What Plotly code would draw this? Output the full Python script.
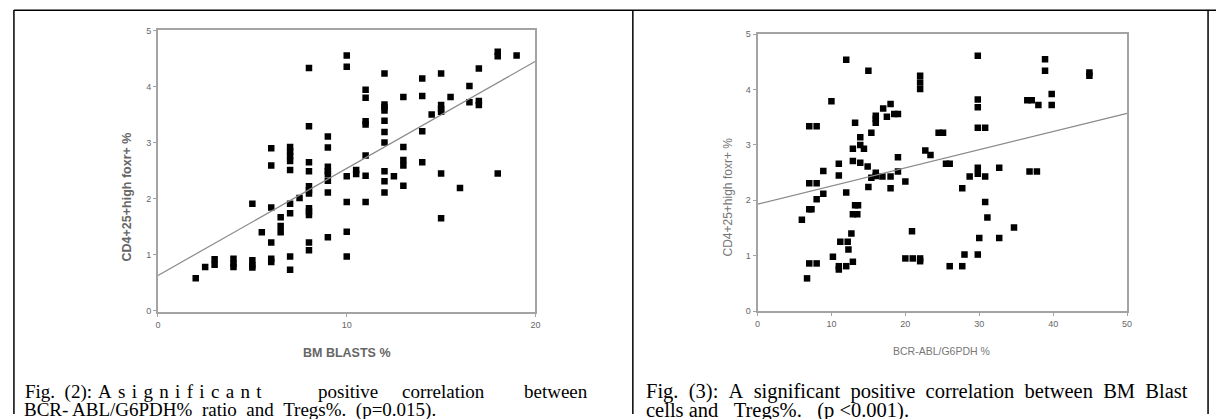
import plotly.graph_objects as go

W, H = 1221, 419

# ---------------- Data: Fig. (2)  BM blasts % vs CD4+25+high foxp3+ %
fig2_x = [2, 2.5, 3, 3, 4, 4, 4, 5, 5, 5, 5, 5.5,
          6, 6, 6, 6, 6, 6, 6.5, 6.5, 6.5,
          7, 7, 7, 7, 7, 7, 7, 7, 7, 7.5,
          8, 8, 8, 8, 8, 8, 8, 8, 8, 8, 8, 8,
          9, 9, 9, 9, 9, 9, 9, 9,
          10, 10, 10, 10, 10, 10, 10.5, 10.5,
          11, 11, 11, 11, 11, 11, 11,
          12, 12, 12, 12, 12, 12, 12, 12, 12, 12, 12.5,
          13, 13, 13, 13, 13, 14, 14, 14, 14, 14.5,
          15, 15, 15, 15, 15, 15, 15.5, 16, 16.5, 16.5, 17, 17, 17,
          18, 18, 18, 19]
fig2_y = [0.58, 0.78, 0.92, 0.82, 0.93, 0.84, 0.78, 0.90, 0.81, 0.77, 1.91, 1.40,
          2.90, 2.59, 1.84, 1.22, 0.93, 0.87, 1.67, 1.51, 1.40,
          2.92, 2.84, 2.76, 2.67, 2.51, 1.91, 1.74, 0.97, 0.73, 2.01,
          4.33, 3.29, 2.65, 2.49, 2.22, 2.15, 2.09, 1.83, 1.77, 1.71, 1.22, 1.08,
          3.11, 2.91, 2.57, 2.49, 2.44, 2.32, 2.11, 1.31,
          4.55, 4.35, 2.40, 1.94, 1.41, 0.97, 2.51, 2.44,
          3.94, 3.80, 3.38, 3.32, 2.77, 2.41, 1.94,
          4.23, 3.68, 3.63, 3.57, 3.39, 3.19, 3.00, 2.49, 2.31, 2.11, 2.40,
          3.81, 2.92, 2.69, 2.59, 2.23, 4.14, 3.83, 3.20, 2.65, 3.50,
          4.23, 3.67, 3.60, 3.55, 2.45, 1.65, 3.81, 2.19, 4.01, 3.72, 4.32, 3.74, 3.67,
          4.62, 4.54, 2.45, 4.55]
fig2_fit = (0.63, 0.191)      # intercept, slope of drawn regression line
fig2_xrange = [0, 20]
fig2_xticks = [0, 10, 20]

# ---------------- Data: Fig. (3)  BCR-ABL/G6PDH % vs CD4+25+high foxp3+ %
fig3_x = [12, 15, 22, 22, 22, 10, 18, 17, 16, 16, 16, 17.5, 18.5, 19, 7, 8, 13.2, 15.4,
          13.9, 13.9, 12.9, 14.4, 24.5, 25.1, 22.7, 23.4, 19, 25.5, 26, 12.9, 13.9, 11,
          14.9, 8.9, 11, 16, 16, 15.4, 16.9, 18, 19, 20, 7, 8, 8.9, 12, 15, 18, 8, 7, 7.3,
          6, 13.2, 13.6, 12.9, 13.5, 12.7, 20.9, 11.2, 12.2, 12.3, 10.2, 7, 8, 11, 11, 12,
          12.9, 6.7, 20, 21, 22, 22, 26,
          29.8, 38.9, 38.9, 44.9, 44.9, 29.8, 29.8, 36.5, 37.1, 38, 39.8, 39.8, 29.8, 30.8,
          29.8, 29.8, 28.7, 30.8, 32.7, 36.8, 37.8, 27.7, 30.8, 31.1, 34.7, 30, 32.7, 28,
          29.8, 27.7]
fig3_y = [4.54, 4.34, 4.25, 4.13, 4.01, 3.79, 3.74, 3.66, 3.53, 3.47, 3.40, 3.51, 3.56, 3.56,
          3.34, 3.34, 3.40, 3.22, 3.14, 3.00, 2.93, 2.93, 3.22, 3.22, 2.90, 2.82, 2.78, 2.66,
          2.66, 2.71, 2.68, 2.66, 2.61, 2.53, 2.45, 2.50, 2.44, 2.41, 2.43, 2.43, 2.52, 2.34,
          2.31, 2.31, 2.12, 2.14, 2.24, 2.22, 2.02, 1.84, 1.84, 1.65, 1.91, 1.91, 1.75, 1.75,
          1.40, 1.44, 1.25, 1.25, 1.11, 0.98, 0.86, 0.86, 0.81, 0.75, 0.81, 0.89, 0.59, 0.95,
          0.95, 0.95, 0.90, 0.81,
          4.61, 4.55, 4.34, 4.31, 4.25, 3.82, 3.68, 3.81, 3.81, 3.72, 3.92, 3.72, 3.31, 3.31,
          2.59, 2.48, 2.43, 2.43, 2.59, 2.52, 2.52, 2.22, 1.97, 1.69, 1.51, 1.32, 1.32, 1.02,
          1.02, 0.81]
fig3_fit = (1.93, 0.0328)
fig3_xrange = [0, 50]
fig3_xticks = [0, 10, 20, 30, 40, 50]

y_ticks = [0, 1, 2, 3, 4, 5]
y_title = "CD4+25+high foxr+ %"
fig2_xtitle = "BM BLASTS %"
fig3_xtitle = "BCR-ABL/G6PDH %"

cap2_line1 = ["Fig.", "(2):", "Asignificant", "positive", "correlation", "between"]
cap2_line2 = ["BCR- ABL/G6PDH%", "ratio", "and", "Tregs%.", "(p=0.015)."]
cap3_line1 = ["Fig.", "(3):", "A", "significant", "positive", "correlation", "between",
              "BM", "Blast"]
cap3_line2 = ["cells", "and", "Tregs%.", "(p", "<0.001)."]


def px(x):
    return x / W


def py(y):
    return 1 - y / H


fig = go.Figure()

fig.add_trace(go.Scatter(x=fig2_x, y=fig2_y, mode="markers", xaxis="x", yaxis="y",
                         marker=dict(symbol="square", size=6.5, color="black"),
                         showlegend=False))
fig.add_trace(go.Scatter(x=fig2_xrange,
                         y=[fig2_fit[0] + fig2_fit[1] * v for v in fig2_xrange],
                         mode="lines", xaxis="x", yaxis="y",
                         line=dict(color="#8a8a8a", width=1.2), showlegend=False))
fig.add_trace(go.Scatter(x=fig3_x, y=fig3_y, mode="markers", xaxis="x2", yaxis="y2",
                         marker=dict(symbol="square", size=6.5, color="black"),
                         showlegend=False))
fig.add_trace(go.Scatter(x=fig3_xrange,
                         y=[fig3_fit[0] + fig3_fit[1] * v for v in fig3_xrange],
                         mode="lines", xaxis="x2", yaxis="y2",
                         line=dict(color="#8a8a8a", width=1.2), showlegend=False))

axis_common = dict(showline=True, mirror=True, linecolor="#a3a3a3", linewidth=2,
                   ticks="outside", ticklen=3, tickcolor="#a3a3a3", tickwidth=1,
                   showgrid=False, zeroline=False,
                   tickfont=dict(family="Liberation Sans", size=9, color="#666"))

fig.update_layout(
    width=W, height=H, autosize=False,
    margin=dict(l=0, r=0, t=0, b=0),
    paper_bgcolor="white", plot_bgcolor="white",
    xaxis=dict(domain=[px(156), px(536)], range=fig2_xrange, tickvals=fig2_xticks,
               anchor="y", **axis_common),
    yaxis=dict(domain=[py(315), py(26)], range=[-0.03, 5], tickvals=y_ticks,
               anchor="x", **axis_common),
    xaxis2=dict(domain=[px(759.5), px(1131.5)], range=fig3_xrange, tickvals=fig3_xticks,
                anchor="y2", **axis_common),
    yaxis2=dict(domain=[py(313.5), py(30)], range=[0, 5], tickvals=y_ticks,
                anchor="x2", **axis_common),
)

ann = []


def text(s, x, y, size, xanchor="left", family="Liberation Serif", color="black",
         angle=0):
    ann.append(dict(text=s, x=px(x), y=py(y), xref="paper", yref="paper",
                    xanchor=xanchor, yanchor="middle", showarrow=False,
                    borderpad=0, textangle=angle,
                    font=dict(family=family, size=size, color=color)))


NB = "\u00a0"
LETTER_GAP = "\u00a0\u200a"   # spaced-out letters of "A s i g n i f i c a n t"

# axis titles
text("<b>" + fig2_xtitle + "</b>", 346, 356, 12.5, "center", "Liberation Sans", "#666")
text("<b>" + y_title + "</b>", 125, 197, 12.5, "center", "Liberation Sans", "#666", -90)
text(fig3_xtitle, 945, 354, 10.5, "center", "Liberation Sans", "#777")
text(y_title, 730, 197, 12, "center", "Liberation Sans", "#777", -90)

# caption Fig. (2)  (justified line, then normal line)
F2 = 19
L1, L2 = 396, 415
text(cap2_line1[0] + NB + NB + cap2_line1[1], 21, L1, F2)
text(LETTER_GAP.join(cap2_line1[2]), 95, L1, F2)
text(cap2_line1[3], 316, L1, F2)
text(cap2_line1[4], 401, L1, F2)
text(cap2_line1[5], 590, L1, F2, "right")
text((NB * 2).join(cap2_line2), 20, L2, F2)

# caption Fig. (3)
F3 = 20.5
line1 = (NB * 2).join(cap3_line1)
line2 = (cap3_line2[0] + NB + cap3_line2[1] + NB * 3 + cap3_line2[2] + NB * 3
         + cap3_line2[3] + NB + cap3_line2[4])
text(line1, 646, L1, F3)
text(line2, 646, L2, F3)

# table borders
shapes = []
for x in (11, 634, 1213):
    shapes.append(dict(type="line", xref="paper", yref="paper", x0=px(x), x1=px(x),
                       y0=py(5), y1=py(419), line=dict(color="black", width=1.5)))
shapes.append(dict(type="line", xref="paper", yref="paper", x0=px(11), x1=px(1221),
                   y0=py(5.5), y1=py(5.5), line=dict(color="black", width=1.5)))

fig.update_layout(annotations=ann, shapes=shapes)
fig.write_html("out.html", config={"displayModeBar": False},
               post_script="document.body.style.margin='0';"
                           "document.body.style.overflow='hidden';")
